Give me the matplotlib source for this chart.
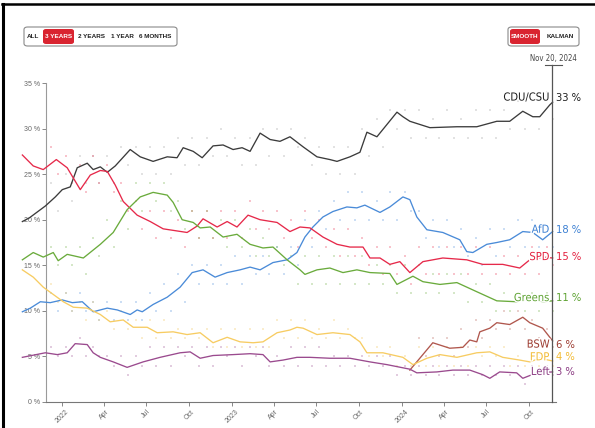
import numpy as np
import pandas as pd
import matplotlib
matplotlib.use('Agg')
import matplotlib.pyplot as plt
import matplotlib.dates as mdates
import matplotlib.patheffects as pe
from matplotlib import font_manager
from matplotlib.font_manager import FontProperties
from matplotlib.patches import FancyBboxPatch
from matplotlib.lines import Line2D

# smoothed poll averages, x given as decimal years, y in %
cdu_t = [2021.765, 2021.806, 2021.900, 2021.959, 2022.0, 2022.047, 2022.088, 2022.147, 2022.182,
         2022.224, 2022.265, 2022.312, 2022.4, 2022.459, 2022.535, 2022.618, 2022.676, 2022.712,
         2022.771, 2022.824, 2022.888, 2022.947, 2023.006, 2023.059, 2023.106, 2023.165, 2023.224,
         2023.282, 2023.341, 2023.418, 2023.5, 2023.576, 2023.618, 2023.694, 2023.753, 2023.794,
         2023.853, 2023.888, 2023.971, 2024.006, 2024.047, 2024.165, 2024.324, 2024.441, 2024.559,
         2024.635, 2024.712, 2024.771, 2024.812, 2024.871, 2024.888]
cdu = [19.8, 20.2, 21.5, 22.5, 23.3, 23.6, 25.7, 26.2, 25.5, 25.8, 25.2, 25.9, 27.7, 26.9, 26.4,
       26.9, 26.8, 27.9, 27.5, 26.8, 28.1, 28.2, 27.7, 27.9, 27.5, 29.5, 28.8, 28.6, 29.1, 28.0,
       26.9, 26.6, 26.4, 26.9, 27.4, 29.6, 29.1, 29.9, 31.8, 31.3, 30.8, 30.1, 30.2, 30.2, 30.8,
       30.8, 31.9, 31.3, 31.3, 32.6, 32.9]

spd_t = [2021.765, 2021.829, 2021.888, 2021.965, 2022.029, 2022.106, 2022.165, 2022.224, 2022.265,
         2022.312, 2022.359, 2022.441, 2022.518, 2022.594, 2022.735, 2022.794, 2022.829, 2022.912,
         2022.971, 2023.029, 2023.094, 2023.165, 2023.265, 2023.341, 2023.4, 2023.459, 2023.535,
         2023.618, 2023.694, 2023.771, 2023.812, 2023.871, 2023.929, 2023.988, 2024.047, 2024.124,
         2024.241, 2024.382, 2024.476, 2024.594, 2024.694, 2024.753, 2024.829, 2024.888]
spd = [27.1, 25.9, 25.5, 26.6, 25.7, 23.3, 24.9, 25.4, 25.3, 23.8, 22.0, 20.5, 19.8, 19.0, 18.6,
       19.3, 20.1, 19.2, 19.8, 19.2, 20.5, 20.0, 19.7, 18.7, 19.2, 19.1, 18.1, 17.3, 17.0, 17.0,
       15.8, 15.8, 15.1, 15.4, 14.2, 15.4, 15.8, 15.6, 15.1, 15.1, 14.7, 15.6, 15.9, 15.8]

afd_t = [2021.765, 2021.812, 2021.871, 2021.929, 2022.0, 2022.059, 2022.118, 2022.182, 2022.265,
         2022.324, 2022.4, 2022.441, 2022.471, 2022.535, 2022.618, 2022.694, 2022.765, 2022.829,
         2022.9, 2022.971, 2023.047, 2023.106, 2023.165, 2023.241, 2023.324, 2023.382, 2023.429,
         2023.476, 2023.535, 2023.594, 2023.676, 2023.735, 2023.782, 2023.871, 2023.929, 2024.006,
         2024.047, 2024.088, 2024.147, 2024.241, 2024.341, 2024.382, 2024.418, 2024.5, 2024.559,
         2024.635, 2024.712, 2024.771, 2024.829, 2024.888]
afd = [9.9, 10.3, 11.0, 10.9, 11.2, 10.9, 11.0, 9.9, 10.3, 10.1, 9.6, 10.1, 9.9, 10.7, 11.5,
       12.6, 14.2, 14.5, 13.7, 14.2, 14.5, 14.8, 14.5, 15.3, 15.6, 16.4, 18.1, 19.2, 20.3, 20.9,
       21.4, 21.3, 21.6, 20.8, 21.4, 22.5, 22.2, 20.3, 18.9, 18.6, 17.8, 16.5, 16.4, 17.3, 17.5,
       17.8, 18.7, 18.6, 17.8, 18.7]

grn_t = [2021.765, 2021.829, 2021.888, 2021.947, 2021.976, 2022.029, 2022.124, 2022.224, 2022.300,
         2022.382, 2022.459, 2022.535, 2022.618, 2022.653, 2022.706, 2022.771, 2022.812, 2022.871,
         2022.947, 2023.029, 2023.106, 2023.182, 2023.241, 2023.324, 2023.4, 2023.429, 2023.5,
         2023.576, 2023.653, 2023.735, 2023.812, 2023.929, 2023.971, 2024.065, 2024.124, 2024.224,
         2024.324, 2024.441, 2024.559, 2024.676, 2024.753, 2024.829, 2024.888]
grn = [15.6, 16.4, 15.9, 16.4, 15.5, 16.2, 15.8, 17.3, 18.6, 21.1, 22.5, 23.0, 22.7, 21.9, 20.0,
       19.7, 19.1, 19.2, 18.1, 18.4, 17.3, 16.9, 17.0, 15.6, 14.5, 14.0, 14.5, 14.7, 14.2, 14.5,
       14.2, 14.1, 12.9, 13.8, 13.2, 12.9, 13.1, 12.1, 11.1, 11.0, 11.4, 11.0, 11.1]

fdp_t = [2021.765, 2021.829, 2021.888, 2021.947, 2022.006, 2022.065, 2022.147, 2022.224, 2022.282,
         2022.359, 2022.418, 2022.5, 2022.559, 2022.653, 2022.735, 2022.812, 2022.888, 2022.971,
         2023.047, 2023.124, 2023.182, 2023.265, 2023.341, 2023.382, 2023.418, 2023.5, 2023.594,
         2023.694, 2023.753, 2023.794, 2023.888, 2024.006, 2024.065, 2024.147, 2024.224, 2024.324,
         2024.441, 2024.518, 2024.594, 2024.694, 2024.753, 2024.812, 2024.888]
fdp = [14.5, 13.7, 12.6, 11.8, 11.0, 10.4, 10.3, 9.6, 8.8, 9.0, 8.2, 8.2, 7.6, 7.7, 7.4, 7.6,
       6.5, 7.1, 6.6, 6.5, 6.6, 7.6, 7.9, 8.2, 8.1, 7.4, 7.6, 7.4, 6.6, 5.4, 5.4, 4.9, 4.1, 4.8,
       5.2, 4.9, 5.4, 5.5, 4.9, 4.6, 4.4, 4.8, 4.5]

left_t = [2021.765, 2021.9, 2021.971, 2022.029, 2022.076, 2022.147, 2022.182, 2022.224, 2022.3,
          2022.382, 2022.476, 2022.576, 2022.694, 2022.753, 2022.812, 2022.888, 2023.006, 2023.106,
          2023.182, 2023.224, 2023.3, 2023.382, 2023.459, 2023.576, 2023.694, 2023.812, 2023.912,
          2024.047, 2024.088, 2024.206, 2024.3, 2024.4, 2024.476, 2024.518, 2024.576, 2024.676,
          2024.712, 2024.794, 2024.888]
left = [4.9, 5.4, 5.2, 5.4, 6.4, 6.3, 5.4, 4.9, 4.4, 3.8, 4.4, 4.9, 5.4, 5.5, 4.8, 5.1, 5.2, 5.3,
        5.2, 4.4, 4.6, 4.9, 4.9, 4.8, 4.8, 4.4, 4.1, 3.6, 3.2, 3.3, 3.5, 3.5, 3.0, 2.6, 3.3, 3.2,
        2.6, 3.2, 3.3]

bsw_t = [2024.047, 2024.182, 2024.282, 2024.359, 2024.4, 2024.441, 2024.459, 2024.518, 2024.559,
         2024.635, 2024.712, 2024.753, 2024.829, 2024.888]
bsw = [3.5, 6.5, 5.9, 6.0, 6.8, 6.6, 7.7, 8.1, 8.7, 8.5, 9.3, 8.7, 8.1, 6.7]

# individual polls (rough read of the faint dots), one high and one low reading per month,
# Dec 2021 .. Nov 2024
poll_months = pd.date_range('2021-12-01', '2024-11-01', freq='MS')
cdu_hi = [24, 25, 27, 27, 27, 28, 28, 28, 28, 29, 29, 29, 30, 29, 29, 30, 30, 30, 29, 28, 28, 28, 30, 31,
          32, 32, 32, 31, 32, 31, 32, 32, 32, 33, 33, 34]
cdu_lo = [21, 22, 24, 24, 24, 26, 25, 25, 25, 26, 26, 27, 27, 26, 26, 27, 27, 28, 26, 25, 25, 25, 27, 28,
          30, 29, 29, 29, 29, 29, 29, 29, 30, 30, 30, 31]
spd_hi = [28, 27, 26, 27, 26, 24, 22, 21, 21, 20, 21, 21, 21, 21, 22, 21, 21, 20, 21, 20, 19, 19, 18, 17,
          17, 16, 17, 17, 17, 17, 17, 17, 16, 16, 17, 17]
spd_lo = [25, 24, 23, 24, 23, 21, 19, 18, 18, 17, 18, 18, 18, 18, 19, 19, 18, 17, 18, 17, 16, 16, 15, 14,
          14, 13, 14, 14, 14, 14, 14, 14, 14, 14, 14, 15]
grn_hi = [17, 17, 17, 18, 20, 22, 24, 24, 24, 22, 21, 21, 20, 20, 19, 18, 17, 16, 16, 16, 16, 16, 16, 15,
          15, 15, 15, 14, 14, 14, 13, 13, 12, 12, 12, 12]
grn_lo = [15, 15, 14, 16, 17, 19, 21, 22, 21, 19, 18, 18, 17, 17, 16, 16, 15, 13, 13, 13, 13, 13, 13, 13,
          12, 12, 12, 12, 12, 11, 11, 10, 10, 10, 10, 10]
afd_hi = [12, 12, 12, 11, 11, 11, 11, 12, 13, 14, 15, 15, 15, 16, 16, 16, 17, 17, 20, 21, 22, 23, 23, 22,
          23, 23, 21, 20, 20, 19, 18, 19, 19, 20, 20, 19]
afd_lo = [10, 10, 10, 9, 9, 9, 9, 10, 10, 11, 13, 13, 13, 13, 14, 14, 14, 15, 17, 19, 20, 20, 20, 20,
          20, 21, 18, 17, 17, 16, 15, 16, 17, 17, 17, 17]
fdp_hi = [13, 12, 11, 11, 10, 10, 9, 9, 9, 8, 8, 8, 8, 8, 8, 8, 9, 9, 9, 8, 9, 8, 7, 6,
          6, 5, 6, 6, 6, 6, 6, 6, 6, 5, 5, 5]
fdp_lo = [11, 10, 9, 9, 8, 8, 7, 7, 7, 7, 7, 6, 6, 6, 6, 6, 7, 7, 7, 7, 7, 7, 5, 5,
          4, 4, 4, 4, 4, 4, 5, 5, 4, 4, 4, 4]
left_hi = [6, 6, 7, 6, 5, 5, 5, 6, 6, 6, 6, 6, 6, 6, 6, 6, 5, 6, 6, 6, 5, 5, 5, 5,
           5, 4, 4, 4, 4, 4, 4, 4, 4, 4, 4, 4]
left_lo = [5, 5, 5, 5, 4, 3, 4, 4, 4, 5, 4, 4, 5, 4, 5, 4, 4, 4, 4, 4, 4, 4, 4, 4,
           3, 3, 3, 3, 3, 3, 3, 3, 3, 2, 3, 3]
# BSW polled from Feb 2024 on
bsw_hi = [7, 7, 7, 8, 9, 9, 10, 10, 9, 8]
bsw_lo = [5, 5, 5, 6, 7, 8, 8, 8, 7, 6]

parties = ['CDU/CSU', 'AfD', 'SPD', 'Greens', 'BSW', 'FDP', 'Left']
latest = [33, 18, 15, 11, 6, 4, 3]
y_ticks = [0, 5, 10, 15, 20, 25, 30, 35]
buttons_range = ['ALL', '3 YEARS', '2 YEARS', '1 YEAR', '6 MONTHS']
buttons_mode = ['SMOOTH', 'KALMAN']


def to_dates(years):
    years = np.asarray(years, dtype=float)
    return pd.Timestamp('2022-01-01') + pd.to_timedelta((years - 2022) * 365.25, unit='D')


def find_narrow():
    """Look for any condensed sans face, prefer regular weight."""
    best = None
    for f in font_manager.fontManager.ttflist:
        condensed = ('Narrow' in f.name or 'Condensed' in f.name
                     or f.stretch in ('condensed', 'semi-condensed', 'extra-condensed'))
        if not condensed or f.style != 'normal' or 'Mono' in f.name or 'Serif' in f.name:
            continue
        w = f.weight if isinstance(f.weight, int) else 400
        if best is None or abs(w - 400) < abs(best[0] - 400):
            best = (w, f.fname)
    return best[1] if best else None


plt.rcParams['font.family'] = ['Liberation Sans', 'DejaVu Sans']
narrow_file = find_narrow()
if narrow_file:
    NARROW = dict(fontproperties=FontProperties(fname=narrow_file))
    scale = 1.0
else:
    NARROW = dict(family='Liberation Sans')
    scale = 0.85

series = [
    (cdu_t, cdu, '#3b3b3b', cdu_hi, cdu_lo, '#9a9a9a'),
    (afd_t, afd, '#4a8bd8', afd_hi, afd_lo, '#4a8bd8'),
    (spd_t, spd, '#e6294a', spd_hi, spd_lo, '#e6294a'),
    (grn_t, grn, '#6aab3c', grn_hi, grn_lo, '#6aab3c'),
    (bsw_t, bsw, '#b0574d', bsw_hi, bsw_lo, '#b0574d'),
    (fdp_t, fdp, '#f7cc62', fdp_hi, fdp_lo, '#f0c050'),
    (left_t, left, '#9a4a8e', left_hi, left_lo, '#9a4a8e'),
]
label_colors = ['#1e1e1e', '#3d80d3', '#e3203e', '#5ea232', '#9c3b30', '#f2bb35', '#8a3a82']
label_y = [33.4, 18.9, 15.9, 11.4, 6.3, 4.9, 3.3]

W, H = 595, 428
fig = plt.figure(figsize=(W / 100, H / 100), dpi=100)
ax = fig.add_axes([46 / W, 1 - 402 / H, (556 - 46) / W, (402 - 83) / H])

today = pd.Timestamp('2024-11-20')
ax.set_xlim(pd.Timestamp('2021-11-27'), pd.Timestamp('2024-11-28'))
ax.set_ylim(0, 35)

for t, v, c, hi, lo, dc in series:
    months = poll_months[-len(hi):]
    ax.scatter(months + pd.Timedelta(days=7), hi, s=1.6, marker='s', color=dc, alpha=0.28, lw=0, zorder=2)
    ax.scatter(months + pd.Timedelta(days=21), lo, s=1.6, marker='s', color=dc, alpha=0.28, lw=0, zorder=2)
for t, v, c, hi, lo, dc in series:
    ax.plot(to_dates(t), v, color=c, lw=0.95, clip_on=False, solid_joinstyle='round', zorder=3)

# axes styling
for s in ['top', 'right']:
    ax.spines[s].set_visible(False)
ax.spines['left'].set_color('#9a9a9a')
ax.spines['bottom'].set_color('#777777')
ax.spines['left'].set_linewidth(0.8)
ax.spines['bottom'].set_linewidth(0.8)
ax.set_yticks(y_ticks)
ax.set_yticklabels(['{} %'.format(v) for v in y_ticks])
ax.xaxis.set_major_locator(mdates.MonthLocator(bymonth=(1, 4, 7, 10)))
ax.xaxis.set_major_formatter(plt.FuncFormatter(
    lambda x, pos: mdates.num2date(x).strftime('%Y' if mdates.num2date(x).month == 1 else '%b')))
ax.tick_params(axis='both', length=3, width=0.7, color='#888888', labelsize=5, labelcolor='#666666', pad=1.5)
for lab in ax.get_xticklabels():
    lab.set_rotation(45)
    lab.set_ha('center')
    lab.set_va('top')

# today marker
ax.plot([today, today], [0, (402 - 65) / (402 - 83)], transform=ax.get_xaxis_transform(),
        color='#555555', lw=0.9, clip_on=False, zorder=4)
fig.add_artist(Line2D([545 / W, 562 / W], [1 - 65 / H] * 2, color='#555555', lw=0.8))
fig.text(553 / W, 1 - 58 / H, 'Nov 20, 2024', ha='center', va='center', fontsize=5.6 * scale,
         color='#444444', **NARROW)

halo = [pe.withStroke(linewidth=2, foreground='white')]
for name, val, col, yy in zip(parties, latest, label_colors, label_y):
    ax.annotate(name, (today, yy), xytext=(-2, 0), textcoords='offset points', ha='right', va='center',
                fontsize=8 * scale, color=col, path_effects=halo, annotation_clip=False, zorder=5, **NARROW)
    ax.annotate('{} %'.format(val), (today, yy), xytext=(2.5, 0), textcoords='offset points',
                ha='left', va='center', fontsize=8 * scale, color=col, annotation_clip=False,
                zorder=5, **NARROW)


# button bars
def button_bar(x0, x1, items, centres, active, red_span):
    box = FancyBboxPatch((x0 / W, 1 - 46 / H), (x1 - x0) / W, 19 / H,
                         boxstyle='round,pad=0,rounding_size=0.006', transform=fig.transFigure,
                         facecolor='white', edgecolor='#8a8a8a', lw=0.8)
    fig.add_artist(box)
    red = FancyBboxPatch((red_span[0] / W, 1 - 44 / H), (red_span[1] - red_span[0]) / W, 15 / H,
                         boxstyle='round,pad=0,rounding_size=0.005', transform=fig.transFigure,
                         facecolor='#d92430', edgecolor='none')
    fig.add_artist(red)
    for item, cx in zip(items, centres):
        fig.text(cx / W, 1 - 36.5 / H, item, ha='center', va='center', fontsize=4.6,
                 family='Liberation Sans', weight='bold',
                 color='white' if item == active else '#222222')


button_bar(24, 177, buttons_range, [33, 58.5, 92, 122, 155.5], '3 YEARS', (43, 74))
button_bar(508, 579, buttons_mode, [525, 560], 'SMOOTH', (510, 540))

# page frame
fig.add_artist(Line2D([3 / W, 3 / W], [0, 1 - 4 / H], color='black', lw=2.2))
fig.add_artist(Line2D([2 / W, 1], [1 - 4 / H] * 2, color='black', lw=1.8))

fig.savefig('out.png', dpi=100)
